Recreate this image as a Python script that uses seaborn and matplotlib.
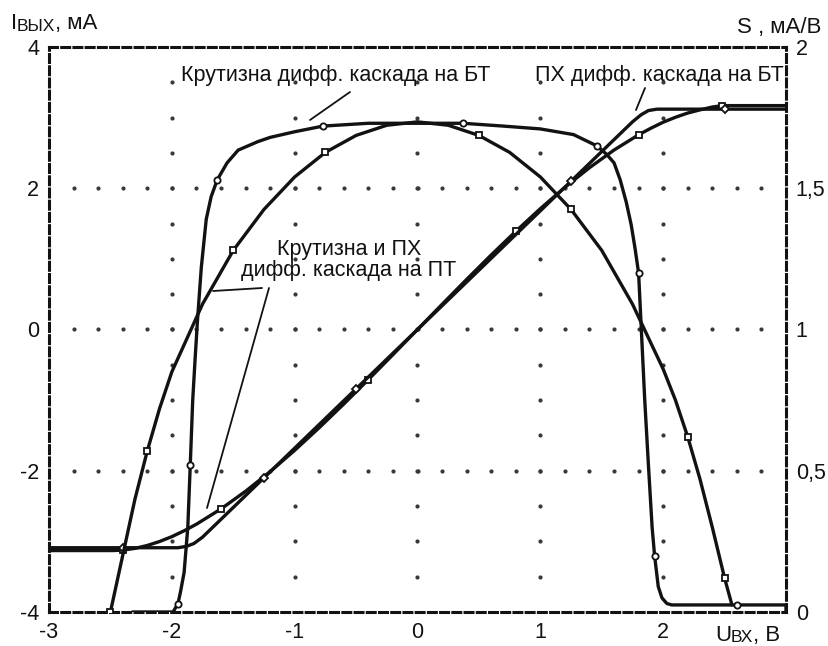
import numpy as np
import pandas as pd
import matplotlib
matplotlib.use("Agg")
import matplotlib.pyplot as plt
import seaborn as sns

# ---------------- data ----------------
# transconductance of BJT differential stage, S (mA/V), right axis
s_bt_x = [-2.32, -1.99, -1.95, -1.93, -1.90, -1.87, -1.85, -1.83, -1.81, -1.79,
          -1.76, -1.72, -1.68, -1.63, -1.55, -1.46, -1.30, -1.20, -1.00, -0.77,
          -0.40, 0.00, 0.37, 0.70, 1.00, 1.27, 1.46, 1.54, 1.60, 1.65, 1.70,
          1.74, 1.77, 1.80, 1.82, 1.85, 1.88, 1.91, 1.93, 1.96, 1.99, 2.03,
          2.07, 2.60, 3.00, 3.00]
s_bt_y = [0.00, 0.00, 0.03, 0.07, 0.14, 0.30, 0.52, 0.75, 0.90, 1.04,
          1.22, 1.39, 1.47, 1.53, 1.59, 1.635, 1.665, 1.68, 1.70, 1.72,
          1.73, 1.73, 1.73, 1.72, 1.71, 1.69, 1.65, 1.62, 1.59, 1.53, 1.45,
          1.37, 1.29, 1.20, 1.02, 0.75, 0.52, 0.30, 0.20, 0.09, 0.05, 0.03,
          0.025, 0.025, 0.025, 0.00]

# transconductance of FET differential stage, S (mA/V), right axis
s_fet_x = [-2.50, -2.45, -2.40, -2.30, -2.20, -2.10, -2.00, -1.75, -1.50, -1.25,
           -1.00, -0.75, -0.50, -0.25, 0.00, 0.25, 0.50, 0.75, 1.00, 1.25,
           1.50, 1.75, 2.00, 2.10, 2.20, 2.30, 2.40, 2.50, 2.56]
s_fet_y = [0.00, 0.10, 0.20, 0.40, 0.57, 0.72, 0.85, 1.09, 1.28, 1.425,
           1.54, 1.627, 1.687, 1.723, 1.735, 1.723, 1.687, 1.627, 1.54, 1.425,
           1.28, 1.09, 0.86, 0.75, 0.62, 0.47, 0.30, 0.12, 0.025]

# transfer characteristic of BJT stage, I_out (mA), left axis
t_bt_x = [-3.00, -2.40, -1.95, -1.88, -1.82, -1.75, -1.50, -1.25, -1.00, -0.50,
          0.00, 0.50, 1.00, 1.25, 1.50, 1.75, 1.82, 1.88, 1.95, 2.50, 3.00]
t_bt_y = [-3.09, -3.09, -3.09, -3.07, -3.03, -2.94, -2.52, -2.10, -1.68, -0.84,
          0.00, 0.84, 1.68, 2.10, 2.52, 2.94, 3.04, 3.10, 3.12, 3.12, 3.12]

# transfer characteristic of FET stage, I_out (mA), left axis
t_fet_x = [-3.00, -2.48, -2.40, -2.30, -2.20, -2.10, -2.00, -1.90, -1.80, -1.60,
           -1.40, -1.20, -1.00, -0.80, -0.60, -0.40, -0.20, 0.00, 0.20, 0.40,
           0.60, 0.80, 1.00, 1.20, 1.40, 1.60, 1.80, 1.90, 2.00, 2.10, 2.20,
           2.30, 2.40, 2.48, 3.00]
t_fet_y = [-3.13, -3.13, -3.124, -3.099, -3.058, -3.002, -2.933, -2.850, -2.757, -2.541,
           -2.291, -2.013, -1.711, -1.390, -1.055, -0.709, -0.356, 0.00, 0.356, 0.709,
           1.055, 1.390, 1.711, 2.013, 2.291, 2.541, 2.757, 2.850, 2.935, 3.005, 3.065,
           3.110, 3.150, 3.170, 3.170]

x_ticks = [-3, -2, -1, 0, 1, 2, 3]
x_tick_labels = ["-3", "-2", "-1", "0", "1", "2", ""]
yl_ticks = [-4, -2, 0, 2, 4]
yl_tick_labels = ["-4", "-2", "0", "2", "4"]
yr_ticks = [0, 0.5, 1, 1.5, 2]
yr_tick_labels = ["0", "0,5", "1", "1,5", "2"]

lbl_s_bt = "Крутизна дифф. каскада на БТ"
lbl_t_bt = "ПХ дифф. каскада на БТ"
lbl_fet = "Крутизна и ПХ\nдифф. каскада на ПТ"

df_s_bt = pd.DataFrame({"x": s_bt_x, "y": s_bt_y})
df_s_fet = pd.DataFrame({"x": s_fet_x, "y": s_fet_y})
df_t_bt = pd.DataFrame({"x": t_bt_x, "y": t_bt_y})
df_t_fet = pd.DataFrame({"x": t_fet_x, "y": t_fet_y})

# ---------------- figure ----------------
sns.set_style("white")
plt.rcParams["font.family"] = ["Liberation Sans", "DejaVu Sans"]

W, H = 829, 646
fig = plt.figure(figsize=(W / 100, H / 100), dpi=100)
L, R, T, B = 49, 786, 47, 612
ax = fig.add_axes([L / W, 1 - B / H, (R - L) / W, (B - T) / H])
ax2 = ax.twinx()
ax.set_xlim(-3, 3)
ax.set_ylim(-4, 4)
ax2.set_ylim(0, 2)
ax.set_facecolor("none")

ink = "#121212"

# dotted grid
for gy in (-2, 0, 2):
    gx = np.arange(-2.8, 2.81, 0.2)
    ax.plot(gx, np.full_like(gx, gy), ls="none", marker="o", ms=2.0,
            color="#383838", zorder=1)
for gxv in (-2, -1, 0, 1, 2):
    gyy = np.arange(-3.5, 3.51, 0.5)
    ax.plot(np.full_like(gyy, gxv), gyy, ls="none", marker="o", ms=2.0,
            color="#383838", zorder=1)

lw = 2.4
mk = dict(markerfacecolor="white", markeredgecolor=ink, markeredgewidth=1.3,
          markersize=4.5)

sns.lineplot(data=df_t_fet, x="x", y="y", ax=ax, sort=False, estimator=None,
             color=ink, lw=lw, marker="s", markevery=[2, 9, 15, 21, 26, 33], **mk)
sns.lineplot(data=df_t_bt, x="x", y="y", ax=ax, sort=False, estimator=None,
             color=ink, lw=lw, marker="D", markevery=[1, 7, 9, 13, 19], **mk)
sns.lineplot(data=df_s_fet, x="x", y="y", ax=ax2, sort=False, estimator=None,
             color=ink, lw=lw, marker="s", markevery=[0, 4, 8, 11, 16, 19, 24, 27], **mk)
sns.lineplot(data=df_s_bt, x="x", y="y", ax=ax2, sort=False, estimator=None,
             color=ink, lw=lw, marker="o", markevery=[2, 6, 13, 19, 22, 26, 33, 38, 43], **mk)

# frame: thick dashed border
for sp in ax.spines.values():
    sp.set_linestyle((0, (2.6, 1.4)))
    sp.set_linewidth(2.2)
    sp.set_color(ink)
    sp.set_zorder(0.5)
for sp in ax2.spines.values():
    sp.set_visible(False)

fs = 15.5
ax.set_xticks(x_ticks)
ax.set_xticklabels(x_tick_labels)
ax.set_yticks(yl_ticks)
ax.set_yticklabels(yl_tick_labels)
ax2.set_yticks(yr_ticks)
ax2.set_yticklabels(yr_tick_labels)
ax.tick_params(axis="x", length=3, width=2, direction="out", pad=4,
               labelsize=fs, colors=ink)
ax.tick_params(axis="y", length=0, pad=7, labelsize=fs, colors=ink)
ax2.tick_params(axis="y", length=0, pad=7, labelsize=fs, colors=ink)
ax.set_xlabel("")
ax.set_ylabel("")
ax2.set_ylabel("")


def px(xp, yp):
    """pixel position -> figure fraction"""
    return xp / W, 1 - yp / H


def line_px(p0, p1, lwid=1.3):
    a, b = px(*p0), px(*p1)
    fig.add_artist(plt.Line2D([a[0], b[0]], [a[1], b[1]], color=ink, lw=lwid))


# annotations
afs = 15.5
fig.text(*px(181, 75), lbl_s_bt, fontsize=afs, ha="left", va="center", color=ink)
fig.text(*px(784, 75), lbl_t_bt, fontsize=afs, ha="right", va="center", color=ink)
fig.text(*px(349, 260), lbl_fet, fontsize=afs, ha="center", va="center",
         color=ink, linespacing=1.0)
line_px((350, 92), (310, 120))
line_px((645, 88), (636, 110))
line_px((262, 288), (213, 291))
line_px((269, 288), (207, 508))

# axis titles built from pieces (main letter + small-caps subscript)
fig.canvas.draw()
rend = fig.canvas.get_renderer()


def pieces(x0, ybase, parts):
    x = x0
    for txt, size, dy in parts:
        t = fig.text(*px(x, ybase + dy), txt, fontsize=size, ha="left",
                     va="baseline", color=ink)
        bb = t.get_window_extent(renderer=rend)
        x += bb.width


pieces(11, 29, [("I", 16, 0), ("ВЫХ", 12.5, 2), (", мА", 16, 0)])
pieces(737, 33, [("S , мА/В", 16, 0)])
pieces(715, 641, [("U", 16, 0), ("ВХ", 12.5, 1), (", В", 16, 0)])

fig.savefig("out.png", dpi=100, facecolor="white")
